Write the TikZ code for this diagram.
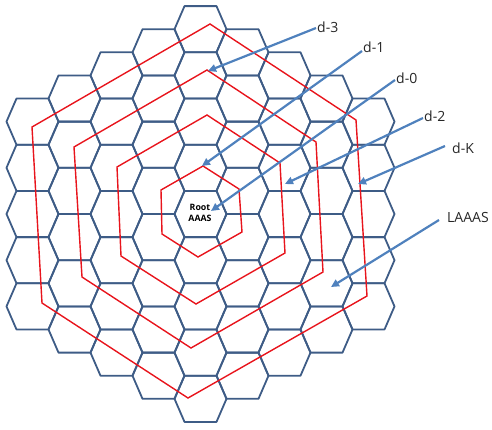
\documentclass[tikz,border=0pt]{standalone}
\usepackage{fontspec}
\setmainfont{Open Sans}
\usetikzlibrary{arrows.meta}
\definecolor{hexblue}{RGB}{62,92,134}
\definecolor{ringred}{RGB}{232,20,28}
\definecolor{arrowblue}{RGB}{79,129,189}
\tikzset{
  hexline/.style={draw=hexblue, line width=1.8pt, line join=round},
  ring/.style={draw=ringred, line width=1.4pt, line join=miter},
  pointer/.style={draw=arrowblue, line width=2.2pt, -{Triangle[length=8pt,width=7.5pt]}},
  lab/.style={anchor=west, inner sep=1pt, font=\fontsize{14}{16}\selectfont, text=black!85},
}
\begin{document}
\begin{tikzpicture}[x=1pt,y=-1pt]
\useasboundingbox (0,0) rectangle (492,429);
% hexagonal grid
\foreach \q in {-4,...,4}{
  \pgfmathtruncatemacro{\rmin}{max(-4,-4-\q)}
  \pgfmathtruncatemacro{\rmax}{min(4,4-\q)}
  \foreach \r in {\rmin,...,\rmax}{
    \pgfmathsetmacro{\cx}{200.5+42*\q}
    \pgfmathsetmacro{\cy}{214+46.2*(\r+\q/2)}
    \draw[hexline] (\cx-26,\cy) -- (\cx-16,\cy-23.1) -- (\cx+16,\cy-23.1)
      -- (\cx+26,\cy) -- (\cx+16,\cy+23.1) -- (\cx-16,\cy+23.1) -- cycle;
  }
}
% red rings
\draw[ring] (203,166) -- (239,189) -- (242,232) -- (198,257) -- (162,234) -- (161,190) -- cycle;
\draw[ring] (207,115) -- (280,163) -- (285,253) -- (196,304) -- (121,256) -- (117,167) -- cycle;
\draw[ring] (207,70) -- (316,142) -- (323,272) -- (191,348) -- (82,277) -- (74,147) -- cycle;
\draw[ring] (210,24) -- (356,120) -- (367,296) -- (188,398) -- (42,303) -- (32,127) -- cycle;
% root label
\node[font=\bfseries\fontsize{8.8}{11.5}\selectfont, align=center, inner sep=0pt] (root) at (200,213) {Root\\AAAS};
% labels
\node[lab] (d3) at (316,27) {d-3};
\node[lab] (d1) at (362,47) {d-1};
\node[lab] (d0) at (395,78) {d-0};
\node[lab] (d2) at (423,116) {d-2};
\node[lab] (dK) at (451,148) {d-K};
\node[lab] (la) at (446,217) {LAAAS};
% arrow tips
\coordinate (t3) at (208,71);
\coordinate (t1) at (202,166);
\coordinate (t0) at (211,211);
\coordinate (t2) at (285,184);
\coordinate (tK) at (358,184);
\coordinate (tL) at (331,287);
\draw[pointer] ([yshift=-1pt]d3.west) -- (t3);
\draw[pointer] ([yshift=-4pt]d1.west) -- (t1);
\draw[pointer] ([yshift=-2pt]d0.west) -- (t0);
\draw[pointer] ([yshift=-2pt]d2.west) -- (t2);
\draw[pointer] ([xshift=-6pt,yshift=2pt]dK.west) -- (tK);
\draw[pointer] ([xshift=-7pt,yshift=-3pt]la.west) -- (tL);
\end{tikzpicture}
\end{document}
